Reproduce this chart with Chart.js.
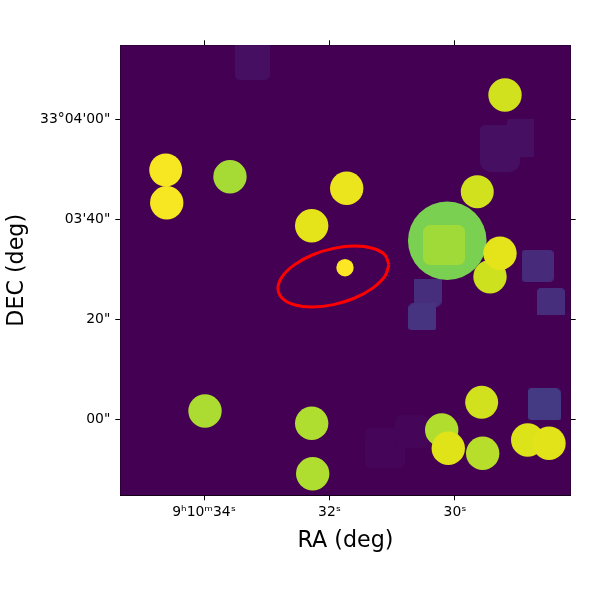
<!DOCTYPE html>
<html>
<head>
<meta charset="utf-8">
<title>RA DEC segmentation map</title>
<script src="https://cdn.jsdelivr.net/npm/chart.js@4"></script>
<style>
  html, body { margin: 0; padding: 0; background: #fff; }
  canvas { display: block; }
</style>
</head>
<body>
<canvas id="sky-chart" width="600" height="600"></canvas>
<script>
// axis ticks (RA in seconds after 9h10m, DEC in arcsec after 33d03m)
const raTickValues = [34, 32, 30];
const raTickLabels = ['9ʰ10ᵐ34ˢ', '32ˢ', '30ˢ'];
const decTickValues = [60, 40, 20, 0];
const decTickLabels = ['33°04\'00"', '03\'40"', '20"', '00"'];

// round sources: centre, radius (arcsec), colormap value
const blobRa = [29.203, 29.645, 30.123, 29.442, 29.283, 34.610, 34.594, 33.586, 31.726, 32.284, 31.753, 29.575, 30.212, 30.107, 29.559, 28.841, 28.502, 33.984, 32.284, 32.268];
const blobDec = [64.86, 45.52, 35.72, 28.52, 33.2, 49.86, 43.32, 48.52, 46.2, 38.72, 30.32, 3.4, -2.14, -5.8, -6.8, -4.14, -4.8, 1.66, -0.8, -10.88];
const blobSize = [3.34, 3.3, 7.86, 3.34, 3.34, 3.3, 3.34, 3.34, 3.34, 3.34, 1.74, 3.3, 3.34, 3.34, 3.34, 3.34, 3.34, 3.34, 3.34, 3.34];
const blobValue = [0.93, 0.93, 0.8, 0.925, 0.96, 0.99, 0.99, 0.86, 0.97, 0.96, 1.0, 0.93, 0.88, 0.95, 0.89, 0.945, 0.955, 0.87, 0.875, 0.875];

// faint square sources: centre, half width, half height (arcsec), colormap value
const boxRa = [33.231, 29.283, 28.964, 28.685, 28.473, 30.438, 30.518, 28.566, 31.116, 30.691];
const boxDec = [71.86, 54.19, 56.36, 30.69, 23.53, 25.36, 20.53, 3.03, -5.8, -2.47];
const boxHalfW = [3.45, 4, 2.66, 3.16, 2.83, 2.84, 2.84, 3.34, 4, 3.33];
const boxHalfH = [4, 4.67, 3.84, 3.17, 2.67, 2.84, 2.67, 3.17, 4, 3.33];
const boxValue = [0.04, 0.04, 0.04, 0.12, 0.13, 0.13, 0.15, 0.17, 0.015, 0.015];

// brighter square on top of the big source
const coreRa = [30.173];
const coreDec = [34.86];
const coreHalfW = [4.17];
const coreHalfH = [4];
const coreValue = [0.85];

// red aperture outline
const ellipseRa = [31.052, 31.119, 31.312, 31.597, 31.936, 32.276, 32.561, 32.754, 32.821, 32.754, 32.561, 32.276, 31.936, 31.597, 31.312, 31.119, 31.052];
const ellipseDec = [30.92, 32.9, 34.2, 34.66, 34.18, 32.86, 30.88, 28.54, 26.2, 24.22, 22.92, 22.46, 22.94, 24.26, 26.24, 28.58, 30.92];

const viridis = ['#440154', '#471365', '#482475', '#463480', '#414487', '#3b528b', '#355f8d', '#2f6c8e', '#2a788e', '#25848e', '#21918c',
    '#1e9c89', '#22a884', '#2fb47c', '#44bf70', '#5ec962', '#7ad151', '#a0da39', '#bddf26', '#dfe318', '#fde725'];

// corner rounding of each square, px
const boxCorners = [[0, 0, 5, 5], [5, 5, 10, 10], [4, 0, 0, 0], [4, 4, 4, 4], [4, 4, 0, 0], [0, 0, 5, 5], [5, 0, 3, 3], [3, 6, 3, 3], [6, 6, 6, 6], [6, 6, 6, 6]];
const coreCorners = [[7, 7, 7, 7]];

function colorFor(value) {
    const pos = value * (viridis.length - 1);
    const i = Math.min(Math.floor(pos), viridis.length - 2);
    const t = pos - i;
    const rgb = [1, 3, 5].map(k => {
        const a = parseInt(viridis[i].substr(k, 2), 16);
        const b = parseInt(viridis[i + 1].substr(k, 2), 16);
        return Math.round(a + (b - a) * t);
    });
    return `rgb(${rgb.join(',')})`;
}

// pixels per arcsec on the DEC axis
function pxPerArcsec(chart) {
    const y = chart.scales.y;
    return Math.abs(y.getPixelForValue(1) - y.getPixelForValue(0));
}

// square with rounded corners, used as a point style
function boxStyle(chart, halfW, halfH, value, corners) {
    const k = pxPerArcsec(chart);
    const c = document.createElement('canvas');
    c.width = Math.round(2 * halfW * k);
    c.height = Math.round(2 * halfH * k);
    const g = c.getContext('2d');
    g.fillStyle = colorFor(value);
    g.beginPath();
    g.roundRect(0, 0, c.width, c.height, corners);
    g.fill();
    return c;
}

const panelBackground = {
    id: 'panelBackground',
    beforeDatasetsDraw(chart) {
        const a = chart.chartArea;
        chart.ctx.save();
        chart.ctx.fillStyle = viridis[0];
        chart.ctx.fillRect(a.left, a.top, a.width, a.height);
        chart.ctx.restore();
    }
};

const zip = (xs, ys) => xs.map((x, i) => ({ x: x, y: ys[i] }));

const boxDataset = (ra, dec, halfW, halfH, value, corners) => ({
    data: zip(ra, dec),
    pointRadius: 10,
    pointHoverRadius: 10,
    pointBorderWidth: 0,
    pointStyle: ctx => boxStyle(ctx.chart, halfW[ctx.dataIndex], halfH[ctx.dataIndex], value[ctx.dataIndex], corners[ctx.dataIndex])
});

const tickStyle = { drawOnChartArea: false, drawTicks: true, tickLength: 5, tickColor: '#000', tickWidth: 1 };
const edge = { display: true, color: '#000', width: 1 };
const font = { family: 'DejaVu Sans', size: 13.9 };
const titleFont = { family: 'DejaVu Sans', size: 22.2 };

const hiddenLabels = { display: true, font: { size: 1 }, color: 'rgba(0,0,0,0)', callback: () => '', padding: 0, maxRotation: 0 };

const raScale = (position, fitSize, labels, title) => ({
    type: 'linear',
    position: position,
    reverse: true,
    min: 28.156,
    max: 35.334,
    grid: tickStyle,
    border: edge,
    afterBuildTicks: scale => { scale.ticks = raTickValues.map(v => ({ value: v })); },
    afterFit: scale => { scale.height = fitSize; },
    ticks: labels,
    title: title
});

const decScale = (position, fitSize, labels, title) => ({
    type: 'linear',
    position: position,
    min: -15.2,
    max: 74.8,
    grid: tickStyle,
    border: edge,
    afterBuildTicks: scale => { scale.ticks = decTickValues.map(v => ({ value: v })); },
    afterFit: scale => { scale.width = fitSize; },
    ticks: labels,
    title: title
});

new Chart(document.getElementById('sky-chart').getContext('2d'), {
    type: 'scatter',
    plugins: [panelBackground],
    data: {
        // Chart.js paints the last dataset first
        datasets: [
            {
                label: 'aperture',
                data: zip(ellipseRa, ellipseDec),
                showLine: true,
                tension: 0.4,
                borderColor: '#ff0000',
                borderWidth: 3,
                pointRadius: 0,
                fill: false
            },
            Object.assign(boxDataset(coreRa, coreDec, coreHalfW, coreHalfH, coreValue, coreCorners), { label: 'core' }),
            {
                label: 'sources',
                data: zip(blobRa, blobDec),
                pointStyle: 'circle',
                pointBorderWidth: 0,
                pointRadius: ctx => blobSize[ctx.dataIndex] * pxPerArcsec(ctx.chart),
                pointBackgroundColor: ctx => colorFor(blobValue[ctx.dataIndex])
            },
            Object.assign(boxDataset(boxRa, boxDec, boxHalfW, boxHalfH, boxValue, boxCorners), { label: 'faint' })
        ]
    },
    options: {
        responsive: false,
        devicePixelRatio: 1,
        animation: false,
        layout: { padding: 0 },
        plugins: { legend: { display: false }, tooltip: { enabled: false } },
        scales: {
            x: raScale('bottom', 104.7, {
                font: font, color: '#000', padding: 4, maxRotation: 0, autoSkip: false,
                callback: v => raTickLabels[raTickValues.indexOf(v)]
            }, { display: true, text: 'RA (deg)', font: titleFont, color: '#000', padding: { top: 0, bottom: 45 } }),
            x2: raScale('top', 45.3, hiddenLabels, { display: false }),
            y: decScale('left', 120.3, {
                font: font, color: '#000', padding: 5, autoSkip: false,
                callback: v => decTickLabels[decTickValues.indexOf(v)]
            }, { display: true, text: 'DEC (deg)', font: titleFont, color: '#000', padding: { top: 4, bottom: 0 } }),
            y2: decScale('right', 29.3, hiddenLabels, { display: false })
        }
    }
});
</script>
</body>
</html>
